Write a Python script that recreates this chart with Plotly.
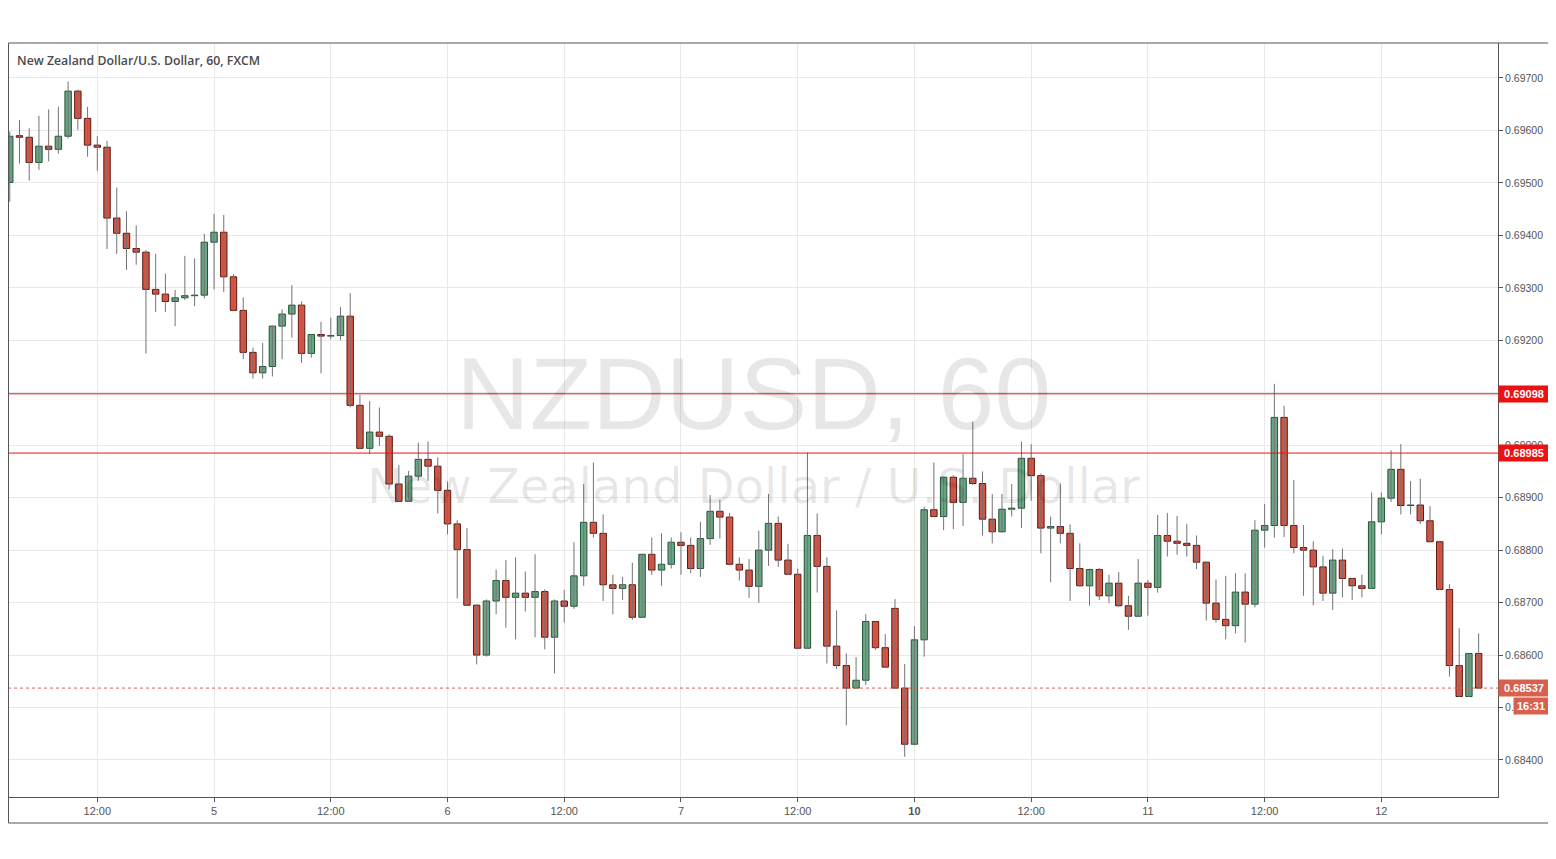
import plotly.graph_objects as go

# ---------------- data (NZDUSD, 60 min, FXCM) ----------------
bar_index = list(range(-21, 131))

opens = [
    0.69501, 0.69590, 0.69587, 0.69539, 0.69570, 0.69564, 0.69589, 0.69675, 0.69623, 0.69572,
    0.69568, 0.69433, 0.69404, 0.69375, 0.69368, 0.69297, 0.69288, 0.69274, 0.69281, 0.69285,
    0.69286, 0.69387, 0.69406, 0.69321, 0.69257, 0.69177, 0.69138, 0.69150, 0.69227, 0.69250,
    0.69267, 0.69175, 0.69211, 0.69208, 0.69209, 0.69246, 0.69076, 0.68994, 0.69025, 0.69017,
    0.68926, 0.68893, 0.68941, 0.68973, 0.68960, 0.68914, 0.68850, 0.68801, 0.68695, 0.68600,
    0.68703, 0.68742, 0.68710, 0.68718, 0.68710, 0.68721, 0.68634, 0.68703, 0.68693, 0.68751,
    0.68853, 0.68832, 0.68734, 0.68727, 0.68734, 0.68672, 0.68792, 0.68762, 0.68773, 0.68815,
    0.68809, 0.68765, 0.68822, 0.68874, 0.68863, 0.68773, 0.68762, 0.68731, 0.68800, 0.68851,
    0.68781, 0.68754, 0.68613, 0.68828, 0.68769, 0.68617, 0.68580, 0.68537, 0.68552, 0.68664,
    0.68614, 0.68689, 0.68537, 0.68430, 0.68629, 0.68877, 0.68864, 0.68939, 0.68891, 0.68937,
    0.68927, 0.68859, 0.68835, 0.68878, 0.68880, 0.68975, 0.68942, 0.68842, 0.68845, 0.68832,
    0.68765, 0.68732, 0.68763, 0.68713, 0.68737, 0.68694, 0.68674, 0.68737, 0.68729, 0.68828,
    0.68817, 0.68813, 0.68809, 0.68777, 0.68699, 0.68668, 0.68656, 0.68720, 0.68697, 0.68838,
    0.68847, 0.69053, 0.68847, 0.68805, 0.68800, 0.68768, 0.68718, 0.68781, 0.68746, 0.68732,
    0.68727, 0.68854, 0.68899, 0.68954, 0.68885, 0.68886, 0.68856, 0.68816, 0.68725, 0.68580,
    0.68521, 0.68603,
]
highs = [
    0.69598, 0.69620, 0.69604, 0.69628, 0.69640, 0.69645, 0.69693, 0.69678, 0.69645, 0.69589,
    0.69580, 0.69491, 0.69446, 0.69419, 0.69372, 0.69365, 0.69327, 0.69296, 0.69361, 0.69356,
    0.69403, 0.69441, 0.69439, 0.69326, 0.69282, 0.69186, 0.69195, 0.69228, 0.69259, 0.69305,
    0.69274, 0.69212, 0.69235, 0.69243, 0.69263, 0.69290, 0.69096, 0.69084, 0.69072, 0.69021,
    0.68962, 0.68951, 0.69005, 0.69007, 0.68977, 0.68931, 0.68857, 0.68842, 0.68697, 0.68706,
    0.68763, 0.68781, 0.68786, 0.68759, 0.68792, 0.68725, 0.68706, 0.68724, 0.68815, 0.68926,
    0.68967, 0.68868, 0.68753, 0.68749, 0.68776, 0.68793, 0.68824, 0.68832, 0.68824, 0.68834,
    0.68824, 0.68854, 0.68905, 0.68896, 0.68871, 0.68786, 0.68783, 0.68837, 0.68907, 0.68864,
    0.68812, 0.68765, 0.68986, 0.68870, 0.68786, 0.68685, 0.68603, 0.68596, 0.68678, 0.68665,
    0.68640, 0.68707, 0.68583, 0.68655, 0.68883, 0.68967, 0.68940, 0.68943, 0.68983, 0.69045,
    0.68950, 0.68907, 0.68907, 0.68926, 0.69007, 0.69002, 0.68946, 0.68864, 0.68927, 0.68849,
    0.68813, 0.68765, 0.68766, 0.68753, 0.68758, 0.68713, 0.68783, 0.68743, 0.68867, 0.68871,
    0.68865, 0.68850, 0.68828, 0.68778, 0.68744, 0.68751, 0.68756, 0.68756, 0.68857, 0.68888,
    0.69117, 0.69075, 0.68934, 0.68848, 0.68817, 0.68789, 0.68802, 0.68803, 0.68747, 0.68753,
    0.68910, 0.68910, 0.68990, 0.69002, 0.68932, 0.68936, 0.68884, 0.68818, 0.68735, 0.68651,
    0.68604, 0.68641,
]
lows = [
    0.69464, 0.69537, 0.69504, 0.69525, 0.69541, 0.69556, 0.69585, 0.69601, 0.69550, 0.69523,
    0.69374, 0.69365, 0.69334, 0.69344, 0.69175, 0.69254, 0.69254, 0.69227, 0.69277, 0.69265,
    0.69280, 0.69297, 0.69292, 0.69256, 0.69164, 0.69127, 0.69127, 0.69131, 0.69164, 0.69205,
    0.69157, 0.69167, 0.69137, 0.69202, 0.69200, 0.69072, 0.68992, 0.68983, 0.68999, 0.68916,
    0.68892, 0.68892, 0.68932, 0.68932, 0.68870, 0.68830, 0.68708, 0.68694, 0.68582, 0.68597,
    0.68678, 0.68652, 0.68630, 0.68683, 0.68634, 0.68611, 0.68565, 0.68662, 0.68688, 0.68732,
    0.68824, 0.68703, 0.68678, 0.68705, 0.68667, 0.68671, 0.68753, 0.68732, 0.68765, 0.68753,
    0.68756, 0.68749, 0.68810, 0.68822, 0.68771, 0.68742, 0.68709, 0.68700, 0.68770, 0.68768,
    0.68753, 0.68612, 0.68612, 0.68719, 0.68584, 0.68573, 0.68466, 0.68536, 0.68543, 0.68610,
    0.68575, 0.68536, 0.68406, 0.68428, 0.68597, 0.68863, 0.68838, 0.68840, 0.68846, 0.68924,
    0.68828, 0.68813, 0.68833, 0.68864, 0.68842, 0.68894, 0.68794, 0.68739, 0.68813, 0.68703,
    0.68731, 0.68694, 0.68705, 0.68699, 0.68692, 0.68648, 0.68673, 0.68675, 0.68719, 0.68788,
    0.68791, 0.68788, 0.68764, 0.68666, 0.68662, 0.68630, 0.68641, 0.68624, 0.68691, 0.68805,
    0.68824, 0.68825, 0.68794, 0.68713, 0.68695, 0.68703, 0.68686, 0.68710, 0.68705, 0.68710,
    0.68726, 0.68830, 0.68892, 0.68868, 0.68868, 0.68850, 0.68815, 0.68724, 0.68559, 0.68520,
    0.68520, 0.68537,
]
closes = [
    0.69589, 0.69587, 0.69539, 0.69570, 0.69564, 0.69589, 0.69675, 0.69623, 0.69572, 0.69568,
    0.69433, 0.69404, 0.69375, 0.69368, 0.69297, 0.69288, 0.69274, 0.69281, 0.69285, 0.69286,
    0.69387, 0.69406, 0.69321, 0.69257, 0.69177, 0.69138, 0.69150, 0.69227, 0.69250, 0.69267,
    0.69175, 0.69211, 0.69208, 0.69209, 0.69246, 0.69076, 0.68994, 0.69025, 0.69017, 0.68926,
    0.68893, 0.68941, 0.68973, 0.68960, 0.68914, 0.68850, 0.68801, 0.68695, 0.68600, 0.68703,
    0.68742, 0.68710, 0.68718, 0.68710, 0.68721, 0.68634, 0.68703, 0.68693, 0.68751, 0.68853,
    0.68832, 0.68734, 0.68727, 0.68734, 0.68672, 0.68792, 0.68762, 0.68773, 0.68815, 0.68809,
    0.68765, 0.68822, 0.68874, 0.68863, 0.68773, 0.68762, 0.68731, 0.68800, 0.68851, 0.68781,
    0.68754, 0.68613, 0.68828, 0.68769, 0.68617, 0.68580, 0.68537, 0.68552, 0.68664, 0.68614,
    0.68577, 0.68537, 0.68430, 0.68629, 0.68877, 0.68864, 0.68939, 0.68891, 0.68937, 0.68927,
    0.68859, 0.68835, 0.68878, 0.68880, 0.68975, 0.68942, 0.68842, 0.68845, 0.68832, 0.68765,
    0.68732, 0.68763, 0.68713, 0.68737, 0.68694, 0.68674, 0.68737, 0.68729, 0.68828, 0.68817,
    0.68813, 0.68809, 0.68777, 0.68699, 0.68668, 0.68656, 0.68720, 0.68697, 0.68838, 0.68847,
    0.69053, 0.68847, 0.68805, 0.68800, 0.68768, 0.68718, 0.68781, 0.68746, 0.68732, 0.68727,
    0.68854, 0.68899, 0.68954, 0.68885, 0.68886, 0.68856, 0.68816, 0.68725, 0.68580, 0.68521,
    0.68603, 0.68537,
]

tick_positions = [-12, 0, 12, 24, 36, 48, 60, 72, 84, 96, 108, 120]
tick_labels = ["12:00", "5", "12:00", "6", "12:00", "7", "12:00", "<b>10</b>",
               "12:00", "11", "12:00", "12"]

level_lines = [0.69098, 0.68985]
last_price = 0.68537
countdown = "16:31"
price_ticks = [0.684, 0.685, 0.686, 0.687, 0.688, 0.689, 0.690,
               0.691, 0.692, 0.693, 0.694, 0.695, 0.696, 0.697]

# ---------------- styling ----------------
UP_FILL, UP_LINE = "#6ba583", "#225437"
DN_FILL, DN_LINE = "#d75442", "#5b1a13"
WICK = "#737375"
FRAME = "#555555"
GRID = "#e9e9e9"
LEVEL_RED = "#ee1111"
LAST_RED = "#d9604d"

# the page body adds an 8px offset, so the figure is 8px smaller
W, H = 1548, 851
ML, MR, MT, MB = 0, 58, 35, 62
PW, PH = W - ML - MR, H - MT - MB

fig = go.Figure()

# wicks
wx, wy = [], []
for x, hi, lo in zip(bar_index, highs, lows):
    wx += [x, x, None]
    wy += [lo, hi, None]
fig.add_trace(go.Scatter(x=wx, y=wy, mode="lines",
                         line=dict(color=WICK, width=1),
                         hoverinfo="skip", showlegend=False))

# bodies
base = [min(o, c) for o, c in zip(opens, closes)]
height = [abs(c - o) for o, c in zip(opens, closes)]
fill = [UP_FILL if c >= o else DN_FILL for o, c in zip(opens, closes)]
edge = [UP_LINE if c >= o else DN_LINE for o, c in zip(opens, closes)]
fig.add_trace(go.Bar(x=bar_index, y=height, base=base, width=0.66,
                     marker=dict(color=fill, line=dict(color=edge, width=1)),
                     hoverinfo="skip", showlegend=False))

# level lines and last price line
shapes = []
for lv in level_lines:
    shapes.append(dict(type="line", xref="paper", x0=0, x1=1, yref="y", y0=lv, y1=lv,
                       line=dict(color=LEVEL_RED, width=1), layer="above"))
shapes.append(dict(type="line", xref="paper", x0=0, x1=1, yref="y",
                   y0=last_price, y1=last_price,
                   line=dict(color=LAST_RED, width=1, dash="dot"), layer="above"))
# outer frame
shapes.append(dict(type="rect", xref="paper", yref="paper",
                   x0=0.5 / PW, x1=1542 / PW, y0=-(815 - 789) / PH, y1=1,
                   line=dict(color=FRAME, width=1), fillcolor="rgba(0,0,0,0)",
                   layer="above"))

ann = []
# watermark
ann.append(dict(text="NZDUSD, 60", xref="paper", yref="paper", x=0.5,
                y=(797 - 394) / PH, xanchor="center", yanchor="middle", showarrow=False,
                font=dict(family="Liberation Sans", size=102, color="rgba(0,0,0,0.095)")))
ann.append(dict(text="New Zealand Dollar / U.S. Dollar", xref="paper", yref="paper", x=0.5,
                y=(797 - 486) / PH, xanchor="center", yanchor="middle", showarrow=False,
                font=dict(family="DejaVu Sans", size=48, color="rgba(0,0,0,0.095)")))
# title
ann.append(dict(text="New Zealand Dollar/U.S. Dollar, 60, FXCM", xref="paper", yref="paper",
                x=7 / PW, y=(797 - 60) / PH, xanchor="left", yanchor="middle",
                showarrow=False,
                font=dict(family="Open Sans", size=12.3, color="#4a4a4a", weight=600)))
# price labels on the axis
for lv in level_lines:
    ann.append(dict(text=f"<b>{lv:.5f}</b>", xref="paper", yref="y", x=1, y=lv,
                    xanchor="left", yanchor="middle", showarrow=False,
                    bgcolor=LEVEL_RED, width=48, height=14, borderpad=1,
                    font=dict(family="Liberation Sans", size=11, color="white")))
ann.append(dict(text=f"<b>{last_price:.5f}</b>", xref="paper", yref="y", x=1, y=last_price,
                xanchor="left", yanchor="middle", showarrow=False,
                bgcolor=LAST_RED, width=48, height=14, borderpad=1,
                font=dict(family="Liberation Sans", size=11, color="white")))
ann.append(dict(text=f"<b>{countdown}</b>", xref="paper", yref="y", x=1541 / PW,
                y=last_price, yshift=-17.5, xanchor="right", yanchor="middle", showarrow=False,
                bgcolor=LAST_RED, width=32, height=14, borderpad=1,
                font=dict(family="Liberation Sans", size=11, color="white")))

fig.update_layout(
    width=W, height=H,
    margin=dict(l=ML, r=MR, t=MT, b=MB, pad=0),
    paper_bgcolor="white", plot_bgcolor="white",
    showlegend=False,
    shapes=shapes, annotations=ann,
    xaxis=dict(range=[-21.18, 131.99], tickmode="array", tickvals=tick_positions,
               ticktext=tick_labels, showgrid=True, gridcolor=GRID, gridwidth=1,
               zeroline=False, showline=True, linecolor=FRAME, linewidth=1,
               ticks="outside", ticklen=4, tickcolor=FRAME,
               tickfont=dict(family="Liberation Sans", size=11, color="#555555"),
               fixedrange=True),
    yaxis=dict(range=[0.683294, 0.697667], side="right", tickmode="array",
               tickvals=price_ticks, ticktext=[f"{p:.5f}" for p in price_ticks],
               showgrid=True, gridcolor=GRID, gridwidth=1, zeroline=False,
               showline=True, linecolor=FRAME, linewidth=1,
               ticks="outside", ticklen=4, tickcolor=FRAME,
               tickfont=dict(family="Liberation Sans", size=10.5, color="#555555"),
               fixedrange=True),
)

fig.write_html("out.html")
